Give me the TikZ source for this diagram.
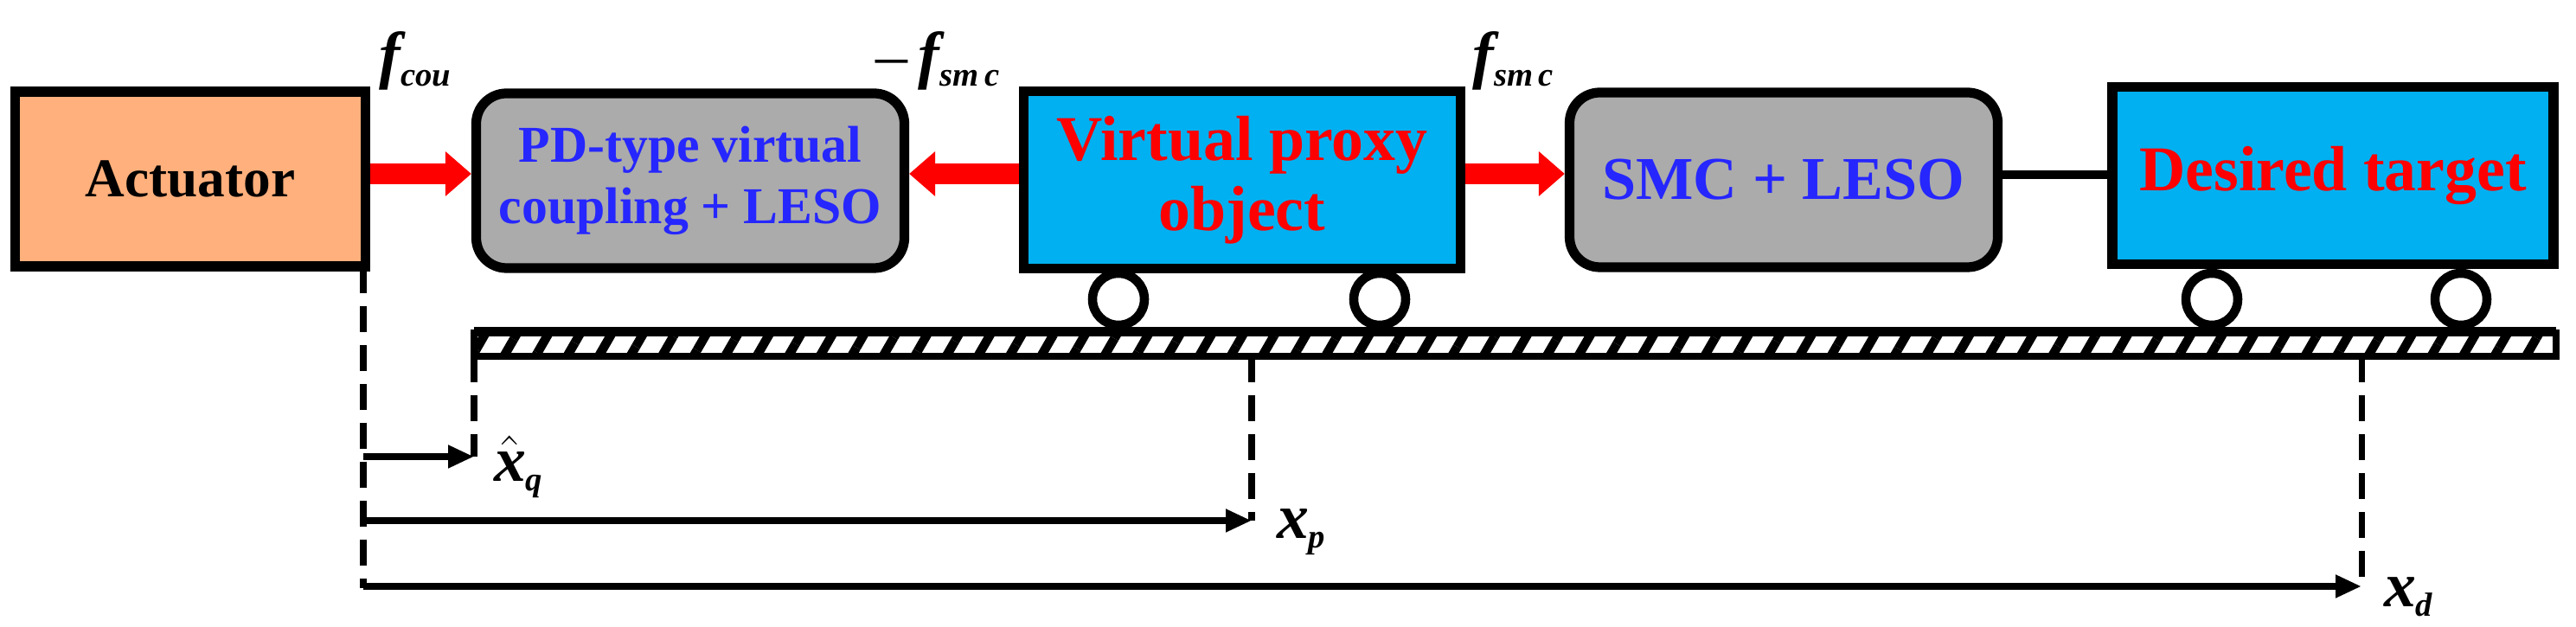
\documentclass[tikz,border=0pt]{standalone}
\usepackage{fontspec}
\setmainfont{Liberation Serif}
\usetikzlibrary{arrows.meta, patterns.meta}
\definecolor{skyblue}{HTML}{00B0F0}
\definecolor{peach}{HTML}{FFB07C}
\tikzset{
  box/.style = {rectangle, draw, line width=3.2pt, font=\bfseries\fontsize{18}{20}\selectfont,
    align=center, inner sep=2pt},
  ctrl/.style = {box, fill=black!33, rounded corners=0.35cm, text=blue!85!white,
    minimum width=4.95cm, minimum height=2.02cm, font=\bfseries\fontsize{17}{20}\selectfont},
  cart/.style = {box, fill=skyblue, text=red, minimum width=5.05cm, minimum height=2.05cm,
    font=\bfseries\fontsize{21}{23}\selectfont},
  wheel/.style = {circle, draw, line width=3pt, fill=white, minimum size=0.6cm, inner sep=0pt},
  force/.style = {red, line width=0.24cm, -{Triangle[length=0.3cm, width=0.5cm]}},
  dim/.style = {line width=2.2pt, -{Triangle[length=0.3cm, width=0.25cm]}},
  guide/.style = {line width=2pt, dash pattern=on 0.3cm off 0.15cm},
  lbl/.style = {font=\bfseries\itshape\fontsize{21}{23}\selectfont, inner sep=0pt}
}
\newcommand{\sub}[1]{\textsubscript{\fontsize{11}{11}\selectfont #1}}
\begin{document}
\begin{tikzpicture}
  \useasboundingbox (0,0) rectangle (29.78,7.25);
  % Place nodes
  \node [box, fill=peach, minimum width=4.05cm, minimum height=2.02cm] (act) at (2.2,5.18) {Actuator};
  \node [ctrl] (pd) at (7.98,5.16) {PD-type virtual\\coupling + LESO};
  \node [cart] (proxy) at (14.36,5.17) {Virtual proxy\\object};
  \node [ctrl, font=\bfseries\fontsize{20}{22}\selectfont] (smc) at (20.62,5.17) {SMC + LESO};
  \node [cart, minimum width=5.1cm] (tgt) at (26.97,5.22) {Desired target};
  % Rail and wheels
  \fill [pattern={Lines[angle=60, distance=9pt, line width=3pt]}] (5.48,3.13) rectangle (29.55,3.4);
  \draw [line width=2.5pt] (5.48,3.13) rectangle (29.55,3.4);
  \fill (5.48,3.36) rectangle (29.55,3.47);
  \node [wheel] (w1) at (12.93,3.79) {};
  \node [wheel] (w2) at (15.95,3.79) {};
  \node [wheel] (w3) at (25.57,3.79) {};
  \node [wheel] (w4) at (28.45,3.79) {};
  % Force labels
  \node [lbl, anchor=south west] (fcou) at (4.38,6.2) {f\sub{cou}};
  \node [lbl, anchor=south west] (mfsmc) at (10.12,6.2) {\upshape\mdseries –\,\itshape\bfseries f\sub{sm\,c}};
  \node [lbl, anchor=south west] (fsmc) at (17.02,6.2) {f\sub{sm\,c}};
  % Draw edges
  \draw [force] (act.east |- 0,5.24) -- (pd.west |- 0,5.24);
  \draw [force] (proxy.west |- 0,5.24) -- (pd.east |- 0,5.24);
  \draw [force] (proxy.east |- 0,5.24) -- (smc.west |- 0,5.24);
  \draw [line width=3pt] (smc.east |- 0,5.23) -- (tgt.west |- 0,5.23);
  % Displacements
  \coordinate (o) at (4.2,4.16);
  \coordinate (q) at (5.48,3.13);
  \coordinate (p) at (14.47,3.13);
  \coordinate (d) at (27.3,3.13);
  \draw [guide] (o) -- (4.2,0.45);
  \draw [guide] (q) -- (q |- 0,1.97);
  \draw [guide] (p) -- (p |- 0,1.23);
  \draw [guide] (d) -- (d |- 0,0.47);
  \draw [dim] (4.2,1.97) -- (q |- 0,1.97);
  \draw [dim] (4.2,1.23) -- (p |- 0,1.23);
  \draw [dim] (4.2,0.47) -- (d |- 0,0.47);
  \node [lbl] (xq) at (6.0,1.85) {$\hat{\mbox{\textbf{\textit{x}}}}$\sub{q}};
  \node [lbl] (xp) at (15.05,1.1) {x\sub{p}};
  \node [lbl] (xd) at (27.85,0.35) {x\sub{d}};
\end{tikzpicture}
\end{document}
